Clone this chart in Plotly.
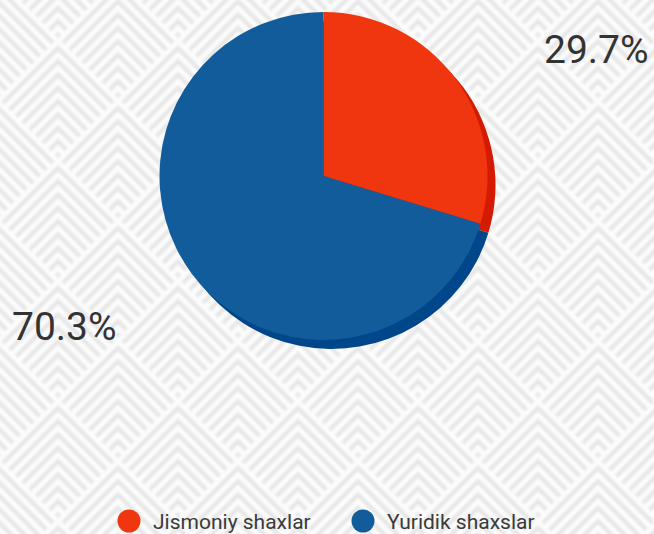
import base64
import plotly.graph_objects as go

# ---- data ----
categories = ["Jismoniy shaxlar", "Yuridik shaxslar"]
values = [29.7, 70.3]
colors = ["#F0360E", "#125C9B"]
shadow_colors = ["#D41A00", "#00468A"]

W, H = 654, 534
total = sum(values)
pct_labels = [f"{v / total * 100:.1f}%" for v in values]


# ---- background pattern (decorative) ----
def pattern_svg():
    P = 120
    cx0, cy0 = 58, 38
    step = 120 / 9
    d = []
    for j in range(-2, 6):
        for i in range(-2, 7):
            for ox, oy in [(0, 0), (60, 60)]:
                cx = cx0 + i * P + ox
                cy = cy0 + j * P + oy
                for k in range(9):
                    a = 10 + k * step
                    t = (120 - a) / 2
                    if t < 1:
                        continue
                    d.append(f"M{cx - t:.1f},{cy + a + t:.1f}L{cx:.1f},{cy + a:.1f}L{cx + t:.1f},{cy + a + t:.1f}")
    svg = (
        f'<svg xmlns="http://www.w3.org/2000/svg" width="{W}" height="{H}" viewBox="0 0 {W} {H}">'
        '<defs><filter id="b"><feGaussianBlur stdDeviation="0.8"/></filter></defs>'
        f'<rect width="{W}" height="{H}" fill="#fcfcfc"/>'
        f'<path d="{"".join(d)}" fill="none" stroke="#e7e7e7" stroke-width="4.4" '
        'stroke-linejoin="miter" stroke-linecap="butt" filter="url(#b)"/></svg>'
    )
    return "data:image/svg+xml;base64," + base64.b64encode(svg.encode()).decode()


fig = go.Figure()

# pie geometry
cx, cy, r = 323.5, 176, 164
dx, dy = 8, 9
main_x = [(cx - r) / W, (cx + r) / W]
main_y = [1 - (cy + r) / H, 1 - (cy - r) / H]
sh_x = [main_x[0] + dx / W, main_x[1] + dx / W]
sh_y = [main_y[0] - dy / H, main_y[1] - dy / H]

fig.add_trace(go.Pie(
    labels=categories, values=values, sort=False, direction="clockwise", rotation=0,
    marker=dict(colors=shadow_colors, line=dict(width=0)), textinfo="none",
    hoverinfo="skip", showlegend=False, domain=dict(x=sh_x, y=sh_y),
))
fig.add_trace(go.Pie(
    labels=categories, values=values, sort=False, direction="clockwise", rotation=0,
    marker=dict(colors=colors, line=dict(width=0)), textinfo="none",
    hoverinfo="label+percent", showlegend=False, domain=dict(x=main_x, y=main_y),
))

# custom legend (circle markers)
legend_x = [129, 363]
legend_y = 521
for name, col, lx in zip(categories, colors, legend_x):
    fig.add_trace(go.Scatter(
        x=[lx], y=[legend_y], mode="markers",
        marker=dict(size=23, color=col, symbol="circle", line=dict(width=0)),
        hoverinfo="skip", showlegend=False,
    ))
    fig.add_annotation(
        x=lx + 22, y=legend_y + 1, xref="x", yref="y", text=name, showarrow=False,
        xanchor="left", yanchor="middle",
        font=dict(family="Roboto", size=21, color="#3a3a3a"),
    )

# percentage labels
label_pos = [(542, 50, "left"), (10, 327, "left")]
for txt, (lx, ly, anc) in zip(pct_labels, label_pos):
    fig.add_annotation(
        x=lx, y=ly, xref="x", yref="y", text=txt, showarrow=False,
        xanchor=anc, yanchor="middle",
        font=dict(family="Roboto", size=39, color="#333333"),
    )

fig.update_layout(
    width=W, height=H,
    margin=dict(l=0, r=0, t=0, b=0),
    paper_bgcolor="#fcfcfc", plot_bgcolor="rgba(0,0,0,0)",
    xaxis=dict(range=[0, W], visible=False, fixedrange=True),
    yaxis=dict(range=[H, 0], visible=False, fixedrange=True),
    images=[dict(source=pattern_svg(), xref="paper", yref="paper", x=0, y=1,
                 sizex=1, sizey=1, sizing="stretch", layer="below",
                 xanchor="left", yanchor="top")],
    showlegend=False,
)

fig.write_html("out.html")
